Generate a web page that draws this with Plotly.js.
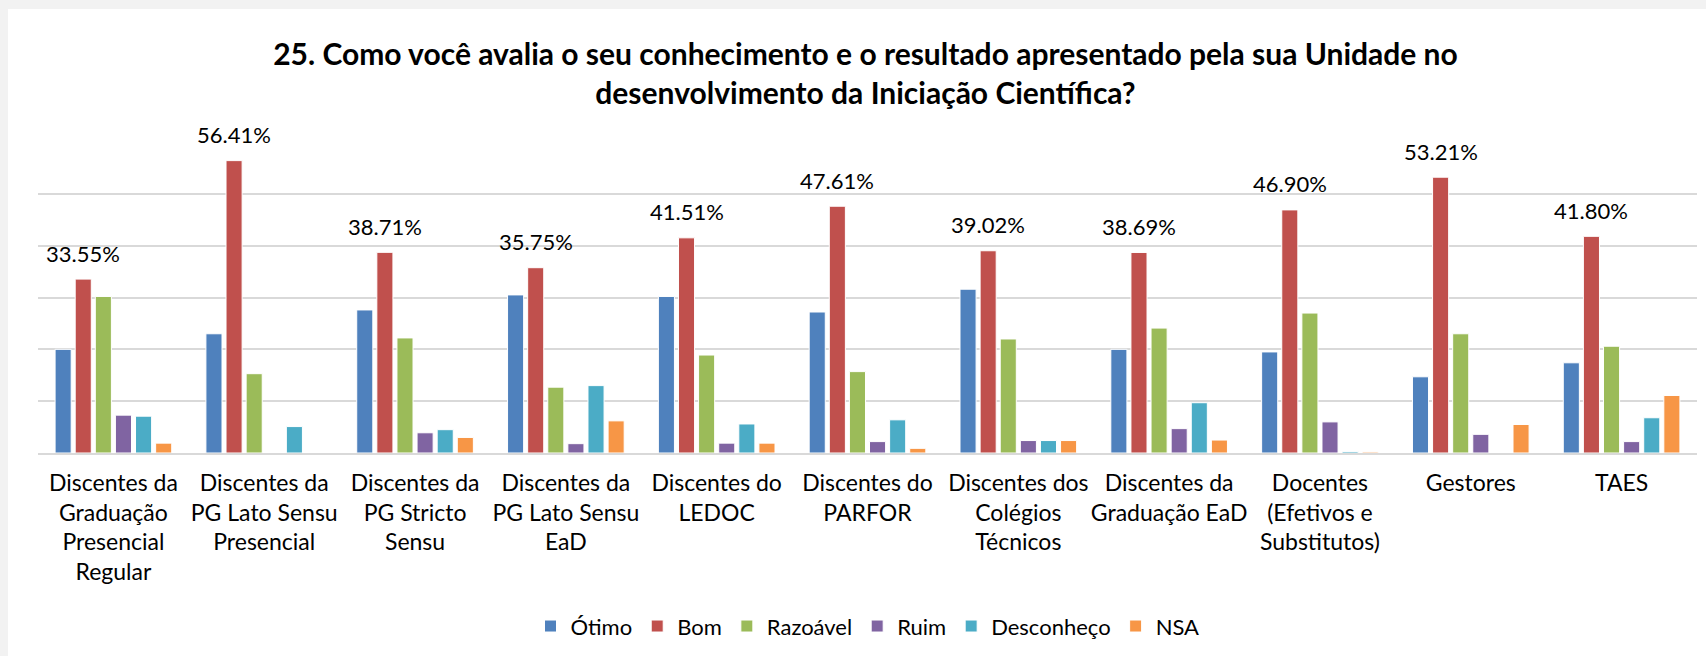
<!DOCTYPE html>
<html>
<head>
<meta charset="utf-8">
<script src="https://cdn.plot.ly/plotly-3.0.1.min.js"></script>
<style>
  html, body { margin: 0; padding: 0; background: #f2f2f2; width: 1706px; height: 656px; overflow: hidden; }
  #chart { position: absolute; left: 8px; top: 9px; width: 1698px; height: 647px; background: #fff; }
</style>
</head>
<body>
<div id="chart"></div>
<script>
// Categories (tick labels, with line breaks as in the reference)
const categories = [
  "Discentes da<br>Graduação<br>Presencial<br>Regular",
  "Discentes da<br>PG Lato Sensu<br>Presencial",
  "Discentes da<br>PG Stricto<br>Sensu",
  "Discentes da<br>PG Lato Sensu<br>EaD",
  "Discentes do<br>LEDOC",
  "Discentes do<br>PARFOR",
  "Discentes dos<br>Colégios<br>Técnicos",
  "Discentes da<br>Graduação EaD",
  "Docentes<br>(Efetivos e<br>Substitutos)",
  "Gestores",
  "TAES"
];

// Series values (%)
const otimo      = [20.0, 23.0, 27.6, 30.5, 30.2, 27.2, 31.6, 20.0, 19.5, 14.7, 17.4];
const bom        = [33.55, 56.41, 38.71, 35.75, 41.51, 47.61, 39.02, 38.69, 46.90, 53.21, 41.80];
const razoavel   = [30.2, 15.3, 22.2, 12.7, 18.9, 15.7, 22.0, 24.1, 27.0, 23.0, 20.6];
const ruim       = [7.3, 0, 3.9, 1.8, 1.9, 2.2, 2.4, 4.7, 6.0, 3.6, 2.2];
const desconheco = [7.1, 5.1, 4.5, 13.0, 5.6, 6.4, 2.4, 9.7, 0.3, 0, 6.8];
const nsa        = [1.9, 0, 3.0, 6.2, 1.9, 0.9, 2.4, 2.5, 0.2, 5.5, 11.1];

const seriesNames = ["Ótimo", "Bom", "Razoável", "Ruim", "Desconheço", "NSA"];
const seriesValues = [otimo, bom, razoavel, ruim, desconheco, nsa];
const seriesColors = ["#4F81BD", "#C0504D", "#9BBB59", "#8064A2", "#4BACC6", "#F79646"];

const FONT = "Lato, 'Open Sans', sans-serif";
const bargap = 0.2;

const traces = seriesNames.map((name, k) => ({
  type: "bar",
  name: name,
  x: categories,
  y: seriesValues[k],
  marker: { color: seriesColors[k], line: { color: "#ffffff", width: 1 } },
  hoverinfo: "x+y+name"
}));

// Data labels on the "Bom" series, placed over the Bom bar inside each group
const bomIndex = 1;
const nSeries = seriesNames.length;
const slot = (1 - bargap) / nSeries;
const bomOffset = -(1 - bargap) / 2 + slot * (bomIndex + 0.5);
const annotations = bom.map((v, i) => ({
  x: i + bomOffset,
  y: v,
  xref: "x",
  yref: "y",
  text: v.toFixed(2) + "%",
  showarrow: false,
  yanchor: "middle",
  yshift: 26,
  font: { family: FONT, size: 22, color: "#000000" }
}));

const layout = {
  width: 1698,
  height: 647,
  paper_bgcolor: "#ffffff",
  plot_bgcolor: "#ffffff",
  margin: { l: 30, r: 9, t: 133, b: 202.5 },
  title: {
    text: "<b>25. Como você avalia o seu conhecimento e o resultado apresentado pela sua Unidade no<br>desenvolvimento da Iniciação Científica?</b>",
    font: { family: FONT, size: 30, color: "#000000" },
    x: 0.505,
    xref: "container",
    xanchor: "center",
    y: 0.913,
    yref: "container",
    yanchor: "middle"
  },
  barmode: "group",
  bargap: bargap,
  bargroupgap: 0.2,
  xaxis: {
    type: "category",
    tickfont: { family: FONT, size: 23, color: "#000000" },
    ticklabelstandoff: 8,
    showline: true,
    linecolor: "#d9d9d9",
    linewidth: 2,
    ticks: "",
    showgrid: false
  },
  yaxis: {
    range: [0, 60],
    dtick: 10,
    showticklabels: false,
    showgrid: true,
    gridcolor: "#d9d9d9",
    gridwidth: 2,
    zeroline: false,
    fixedrange: true
  },
  legend: {
    orientation: "h",
    x: 0.5,
    xanchor: "center",
    y: -0.557,
    yanchor: "middle",
    font: { family: FONT, size: 22, color: "#000000" },
    traceorder: "normal"
  },
  annotations: annotations,
  showlegend: true
};

Plotly.newPlot("chart", traces, layout, { displayModeBar: false, staticPlot: true });
</script>
</body>
</html>
